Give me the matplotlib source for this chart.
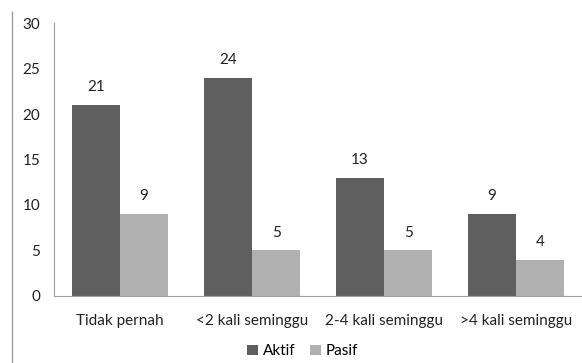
import numpy as np
import matplotlib.pyplot as plt
from matplotlib.lines import Line2D

categories = ['Tidak pernah', '<2 kali seminggu', '2-4 kali seminggu', '>4 kali seminggu']
aktif = [21, 24, 13, 9]
pasif = [9, 5, 5, 4]

plt.rcParams['font.family'] = ['Lato', 'DejaVu Sans']
plt.rcParams['font.size'] = 11

fig = plt.figure(figsize=(5.82, 3.63), dpi=100)
ax = fig.add_axes([0.0928, 0.1846, 0.9072, 0.752])

x = np.arange(len(categories))
w = 0.365
b1 = ax.bar(x - w / 2, aktif, w, color='#5f5f5f', label='Aktif')
b2 = ax.bar(x + w / 2, pasif, w, color='#b0b0b0', label='Pasif')
for bars in (b1, b2):
    for r in bars:
        ax.text(r.get_x() + r.get_width() / 2, r.get_height() + 1.2, f'{r.get_height():g}',
                ha='center', va='bottom', color='#222222')

ax.set_xlim(-0.5, 3.5)
ax.set_ylim(0, 30)
ax.set_yticks(range(0, 31, 5))
ax.set_xticks(x)
ax.set_xticklabels(categories)
ax.tick_params(length=0, colors='#222222')
ax.tick_params(axis='x', pad=13)
ax.tick_params(axis='y', pad=10)
for s in ('top', 'right'):
    ax.spines[s].set_visible(False)
for s in ('left', 'bottom'):
    ax.spines[s].set_color('#a0a0a0')

fig.legend(handles=[b1, b2], loc='lower center', bbox_to_anchor=(0.52, -0.025), ncol=2,
           frameon=False, handlelength=0.7, handleheight=0.7, handletextpad=0.3,
           columnspacing=1.0)

fig.add_artist(Line2D([12 / 582, 12 / 582], [0, 1 - 12 / 363], transform=fig.transFigure,
                      color='#a0a0a0', lw=1))

fig.savefig('out.png', dpi=100)
